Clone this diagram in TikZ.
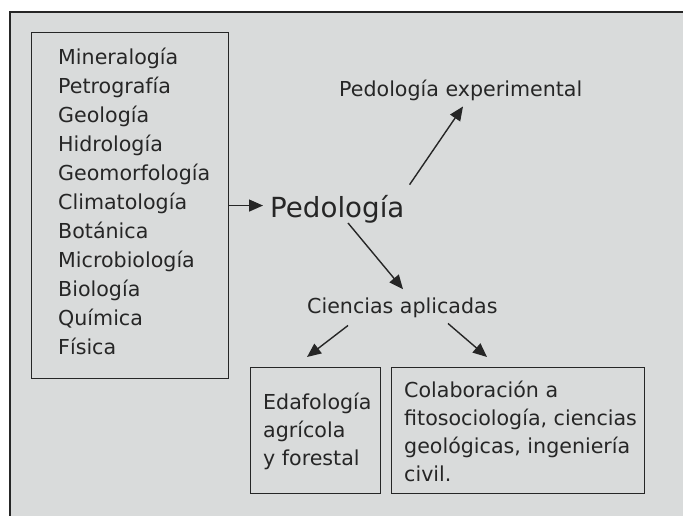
\documentclass[tikz,border=0pt]{standalone}
\usepackage{fontspec}
\setmainfont{DejaVu Sans}
\usetikzlibrary{arrows.meta}
\definecolor{bgfill}{HTML}{D9DBDB}
\definecolor{ink}{HTML}{262626}
\begin{document}
\begin{tikzpicture}[x=1pt,y=-1pt,
  box/.style={draw=ink, line width=1.1pt, inner sep=0pt, anchor=north west},
  txt/.style={text=ink, inner sep=0pt, anchor=base west, font=\fontsize{20.6}{28}\selectfont},
  big/.style={text=ink, inner sep=0pt, anchor=base west, font=\fontsize{27.7}{33}\selectfont},
  arr/.style={draw=ink, line width=1.4pt, -{Triangle[length=14pt,width=12pt]}}]
\useasboundingbox (0,0) rectangle (683,516);
\fill[bgfill] (10,12) rectangle (683,516);
\draw[ink, line width=1.1pt] (683,12) -- (10,12) -- (10,516);
% source box
\node[box, minimum width=197pt, minimum height=346pt] (src) at (31,32) {};
\foreach \t [count=\i from 0] in {Mineralogía,Petrografía,Geología,Hidrología,Geomorfología,Climatología,Botánica,Microbiología,Biología,Química,Física}
  \node[txt] (l\i) at (58,{65+28.9*\i}) {\t};
% main nodes
\node[big] (ped) at (270,217) {Pedología};
\node[txt] (exp) at (339,97) {Pedología experimental};
\node[txt] (cien) at (307,313) {Ciencias aplicadas};
\node[box, minimum width=130pt, minimum height=126pt] (edaf) at (250,367) {};
\node[txt] (e1) at (263,409) {Edafología};
\node[txt] (e2) at (263,437) {agrícola};
\node[txt] (e3) at (263,465) {y forestal};
\node[box, minimum width=253pt, minimum height=126pt] (colab) at (391,367) {};
\node[txt] (c1) at (404,397) {Colaboración a};
\node[txt] (c2) at (404,425) {fitosociología, ciencias};
\node[txt] (c3) at (404,453) {geológicas, ingeniería};
\node[txt] (c4) at (404,481) {civil.};
% connectors
\draw[arr] (src.east) -- ([xshift=-7pt]src.east -| ped.west);
\draw[arr] ([shift={(5,-10)}]ped.north east) -- ([shift={(124,5)}]exp.south west);
\draw[arr] ([xshift=78pt]ped.south west) -- ([shift={(96,-8)}]cien.north west);
\draw[arr] ([shift={(41,8)}]cien.south west) -- ([shift={(57,-10)}]edaf.north west);
\draw[arr] ([shift={(141,6)}]cien.south west) -- ([shift={(96,-10)}]colab.north west);
\end{tikzpicture}
\end{document}
